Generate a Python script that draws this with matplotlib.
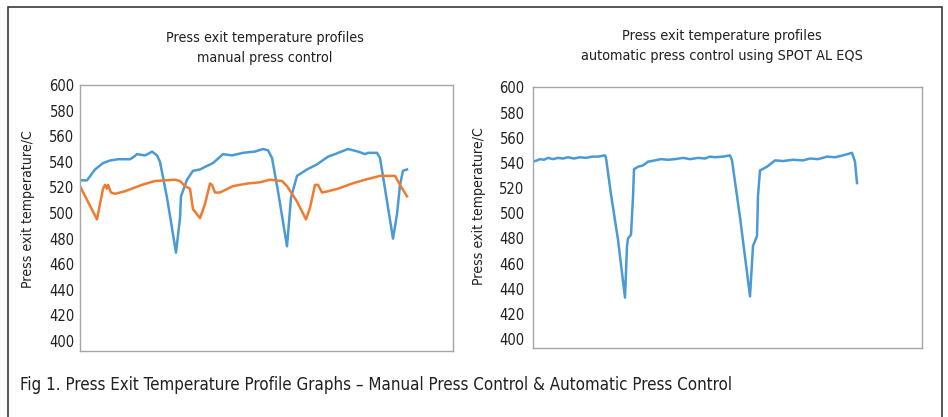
import matplotlib
matplotlib.use('Agg')
import matplotlib.pyplot as plt
from matplotlib.patches import Rectangle

plt.rcParams['font.family'] = ['DejaVu Sans']
plt.rcParams['font.stretch'] = 'condensed'

# manual press control (time index, temperature C)
manual_blue_t = [0, 7, 15, 23, 30, 38, 50, 54, 57, 65, 70, 72, 77, 80, 87, 96, 100, 101,
                 107, 113, 120, 125, 133, 143, 152, 163, 175, 183, 188, 192, 198, 207, 211,
                 217, 227, 237, 248, 255, 268, 278, 285, 288, 297, 300, 305, 313, 317, 320,
                 323, 327]
manual_blue = [525.6, 525.5, 534, 539, 541, 542, 542, 544, 546, 545, 547, 548, 545, 540,
               512, 469, 496, 513, 526, 533, 534, 536, 539, 546, 545, 547, 548, 550, 549,
               543, 517, 474, 512, 529, 534, 538, 544, 546, 550, 548, 546, 547, 547, 543,
               519, 480, 499, 522, 533, 534]
manual_orange_t = [0, 17, 23, 25, 27, 28, 31, 35, 45, 62, 75, 95, 100, 105, 110, 113, 120,
                   125, 130, 132, 135, 140, 153, 167, 180, 190, 202, 207, 217, 226, 230,
                   235, 238, 242, 248, 258, 272, 285, 300, 315, 320, 327]
manual_orange = [521, 495, 519, 522, 519, 522, 516, 515, 517, 522, 525, 526, 525, 521, 519,
                 503, 496, 507, 523, 522, 516, 516, 521, 523, 524, 526, 525, 521, 509, 495,
                 504, 522, 522, 516, 517, 519, 523, 526, 529, 529, 522, 513]

# automatic press control using SPOT AL EQS
auto_t = [0, 4, 7, 11, 15, 20, 25, 30, 35, 41, 47, 53, 59, 65, 72, 73, 78, 85, 92, 94, 95,
          98, 100, 101, 105, 110, 115, 122, 128, 135, 142, 150, 157, 165, 172, 177, 182,
          190, 197, 199, 207, 217, 220, 224, 225, 227, 234, 242, 250, 260, 270, 277, 285,
          294, 302, 310, 319, 322, 324]
auto_temp = [541, 542, 543, 542.5, 544, 543, 544, 543.5, 544.5, 543.5, 544.5, 544, 545,
             545, 546, 544, 515, 479, 433, 474, 480, 483, 513, 535, 537, 538, 541, 542, 543,
             542.5, 543, 544, 543, 544, 543.5, 545, 544.5, 545, 546, 542, 497, 434, 474,
             482, 514, 534, 537, 542, 541.5, 542.5, 542, 543.5, 543, 545, 544.5, 546, 548,
             541, 524]

blue = '#4a9ad6'
orange = '#ef7b30'
text_col = '#231f20'

fig = plt.figure(figsize=(9.48, 4.17), dpi=100)
fig.patch.set_facecolor('white')

# outer frame
fig.add_artist(Rectangle((8 / 948, -0.01), 934 / 948, 1 - 7 / 417 + 0.01,
                         transform=fig.transFigure, fill=False, lw=1.2,
                         edgecolor='#3a3a3a'))

ax1 = fig.add_axes([80 / 948, 1 - 351 / 417, 373 / 948, 266 / 417])
ax2 = fig.add_axes([533 / 948, 1 - 348 / 417, 389 / 948, 261 / 417])

ax1.plot(manual_blue_t, manual_blue, color=blue, lw=1.8)
ax1.plot(manual_orange_t, manual_orange, color=orange, lw=1.8)
ax1.set_xlim(0, 373)
ax1.set_ylim(392.2, 598.8)

ax2.plot(auto_t, auto_temp, color=blue, lw=1.8)
ax2.set_xlim(0, 389)
ax2.set_ylim(393, 600.3)

for ax, pad in ((ax1, 4), (ax2, 6)):
    ax.set_yticks(range(400, 601, 20))
    ax.set_xticks([])
    ax.tick_params(axis='y', length=0, pad=pad, labelsize=10.5, labelcolor=text_col)
    for s in ax.spines.values():
        s.set_color('#a6a6a6')
        s.set_linewidth(1.0)
    ax.set_ylabel('Press exit temperature/C', fontsize=10.1, color=text_col)

ax1.yaxis.set_label_coords(-0.121, 0.534)
ax2.yaxis.set_label_coords(-0.121, 0.542)

fig.text(265 / 948, 1 - 48 / 417, 'Press exit temperature profiles\nmanual press control',
         ha='center', va='center', fontsize=10.3, color=text_col, linespacing=1.5)
fig.text(722 / 948, 1 - 46 / 417,
         'Press exit temperature profiles\nautomatic press control using SPOT AL EQS',
         ha='center', va='center', fontsize=10.4, color=text_col, linespacing=1.5)

fig.text(20 / 948, 1 - 385 / 417,
         'Fig 1. Press Exit Temperature Profile Graphs \u2013 Manual Press Control & Automatic Press Control',
         ha='left', va='center', fontsize=12.2, color=text_col)

fig.savefig('out.png', dpi=100)
